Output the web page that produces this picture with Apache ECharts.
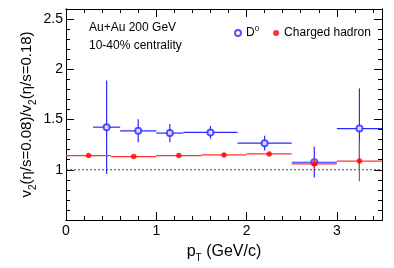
<!DOCTYPE html>
<html><head><meta charset="utf-8">
<script src="https://cdn.jsdelivr.net/npm/echarts@6/dist/echarts.min.js"></script>
<style>html,body{margin:0;padding:0;background:#fff}#c{width:394px;height:268px}</style>
</head><body><div id="c"></div>
<script>
// ---- data ----
const d0X    = [0.45, 0.80, 1.15, 1.60, 2.20, 2.75, 3.25];
const d0Y    = [1.424, 1.388, 1.365, 1.372, 1.265, 1.075, 1.41];
const d0XLo  = [0.3, 0.6, 1.0, 1.3, 1.9, 2.5, 3.0];
const d0XHi  = [0.6, 1.0, 1.3, 1.9, 2.5, 3.0, 3.5];
const d0YErr = [0.465, 0.115, 0.09, 0.063, 0.074, 0.153, 0.40];

const hX    = [0.25, 0.75, 1.25, 1.75, 2.25, 2.75, 3.25];
const hY    = [1.141, 1.131, 1.141, 1.148, 1.158, 1.059, 1.086];
const hXLo  = [0.0, 0.5, 1.0, 1.5, 2.0, 2.5, 3.0];
const hXHi  = [0.5, 1.0, 1.5, 2.0, 2.5, 3.0, 3.5];
const hYErr = [0.005, 0.005, 0.005, 0.005, 0.008, 0.05, 0.20];

const refLine = [[0, 1], [3.5, 1]];
const xRange = [0, 3.5];
const yRange = [0.5, 2.6];

// ---- chart ----
const FONT = '"Liberation Sans", Arial, Helvetica, sans-serif';
const BLUE = '#2a2aff';
const RED = '#ff0000';
const chart = echarts.init(document.getElementById('c'), null, {renderer: 'canvas'});

function errData(x, y, xlo, xhi, yerr) {
  return x.map((v, i) => [v, y[i], xlo[i], xhi[i], y[i] - yerr[i], y[i] + yerr[i]]);
}
function errRender(color) {
  return function (params, api) {
    const l = api.coord([api.value(2), api.value(1)]);
    const r = api.coord([api.value(3), api.value(1)]);
    const lo = api.coord([api.value(0), api.value(4)]);
    const hi = api.coord([api.value(0), api.value(5)]);
    const st = {stroke: color, lineWidth: 1.2};
    return {type: 'group', children: [
      {type: 'line', shape: {x1: l[0], y1: l[1], x2: r[0], y2: r[1]}, style: st},
      {type: 'line', shape: {x1: hi[0], y1: hi[1], x2: lo[0], y2: lo[1]}, style: st}
    ]};
  };
}

const tickFmtY = v => (Math.abs(v * 2 - Math.round(v * 2)) < 1e-6 && v > 0.75) ? (Number.isInteger(v) ? String(v) : v.toFixed(1)) : '';
const tickFmtX = v => Number.isInteger(Math.round(v * 1e6) / 1e6) ? String(Math.round(v)) : '';

const grid = {left: 66, right: 12, top: 9, bottom: 45};
function xAx(pos, interval, major, show) {
  return {type: 'value', min: xRange[0], max: xRange[1], interval: interval, position: pos,
    axisLine: {show: true, onZero: false, lineStyle: {color: '#000', width: 1}},
    axisTick: {show: true, inside: true, length: major ? 8 : 4, lineStyle: {color: '#000'}},
    axisLabel: {show: show, formatter: tickFmtX, fontFamily: FONT, fontSize: 14, color: '#000', margin: 4},
    splitLine: {show: false},
    name: show ? 'p{sub|T} (GeV/c)' : '', nameLocation: 'middle', nameGap: 21,
    nameTextStyle: {fontFamily: FONT, fontSize: 16, color: '#000',
      rich: {sub: {fontFamily: FONT, fontSize: 10, color: '#000', padding: [12, 0, 0, 0]}}}
  };
}
function yAx(pos, interval, major, show) {
  return {type: 'value', min: yRange[0], max: yRange[1], interval: interval, position: pos,
    axisLine: {show: true, onZero: false, lineStyle: {color: '#000', width: 1}},
    axisTick: {show: true, inside: true, length: major ? 8 : 4, lineStyle: {color: '#000'}},
    axisLabel: {show: show, formatter: tickFmtY, fontFamily: FONT, fontSize: 14, color: '#000', margin: 3},
    splitLine: {show: false},
    name: show ? 'v{sub|2}(η/s=0.08)/v{sub|2}(η/s=0.18)' : '', nameLocation: 'middle', nameGap: 28, nameRotate: 90,
    nameMoveOverlap: false,
    nameTextStyle: {fontFamily: FONT, fontSize: 15, color: '#000',
      rich: {sub: {fontFamily: FONT, fontSize: 10, color: '#000', padding: [12, 0, 0, 0]}}}
  };
}

chart.setOption({
  animation: false,
  backgroundColor: '#fff',
  grid: grid,
  xAxis: [xAx('bottom', 1, true, true), xAx('bottom', 0.2, false, false), xAx('top', 1, true, false), xAx('top', 0.2, false, false)],
  yAxis: [yAx('left', 0.5, true, true), yAx('left', 0.1, false, false), yAx('right', 0.5, true, false), yAx('right', 0.1, false, false)],
  legend: {
    left: 229, top: 20, itemWidth: 6, itemHeight: 6, itemGap: 14,
    data: [{name: 'D0', icon: 'emptyCircle'}, {name: 'Charged hadron', icon: 'circle'}],
    formatter: n => n === 'D0' ? 'D{sup|0}' : n,
    textStyle: {fontFamily: FONT, fontSize: 12, color: '#000',
      rich: {sup: {fontFamily: FONT, fontSize: 8, color: '#000', padding: [0, 0, 8, 0]}}}
  },
  graphic: [
    {type: 'text', left: 89, top: 22, style: {text: 'Au+Au 200 GeV', font: '12px ' + FONT, fill: '#000'}},
    {type: 'text', left: 89, top: 40, style: {text: '10-40% centrality', font: '12px ' + FONT, fill: '#000'}}
  ],
  series: [
    {type: 'line', data: refLine, symbol: 'none', silent: true,
      lineStyle: {color: '#444', width: 1, type: [2, 2]}, z: 1},
    {type: 'custom', name: 'D0err', data: errData(d0X, d0Y, d0XLo, d0XHi, d0YErr),
      renderItem: errRender(BLUE), z: 2},
    {type: 'scatter', name: 'D0', data: d0X.map((v, i) => [v, d0Y[i]]), symbol: 'emptyCircle', symbolSize: 6,
      itemStyle: {color: BLUE, borderColor: BLUE, borderWidth: 1}, z: 3},
    {type: 'custom', name: 'hErr', data: errData(hX, hY, hXLo, hXHi, hYErr),
      renderItem: errRender('#ff3030'), z: 4},
    {type: 'scatter', name: 'Charged hadron', data: hX.map((v, i) => [v, hY[i]]), symbol: 'circle', symbolSize: 5.5,
      itemStyle: {color: RED}, z: 5}
  ]
});
</script></body></html>
